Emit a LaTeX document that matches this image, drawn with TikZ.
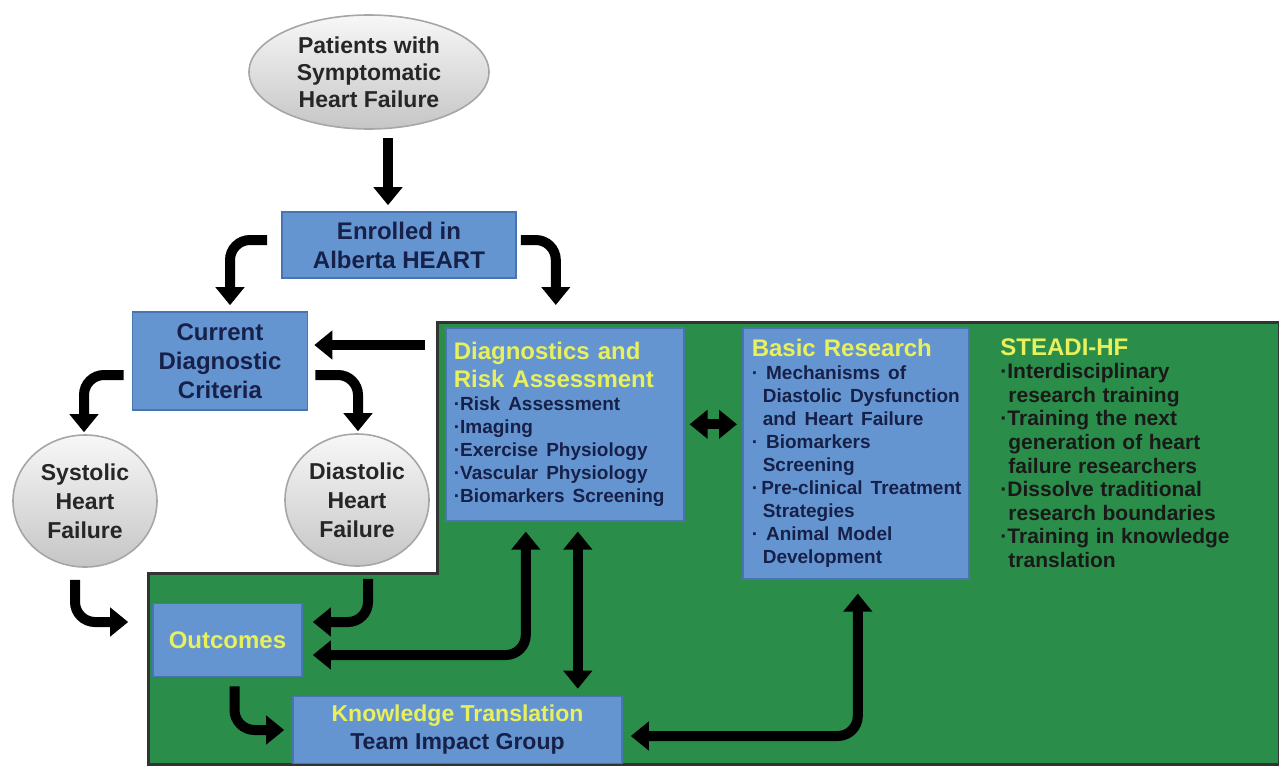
\documentclass[tikz,border=0pt]{standalone}
\usepackage{fontspec}
\setmainfont{Liberation Sans}
\usetikzlibrary{arrows.meta,shapes.geometric}

\definecolor{boxblue}{RGB}{101,149,209}
\definecolor{boxedge}{RGB}{72,116,176}
\definecolor{navy}{RGB}{22,32,72}
\definecolor{titleyellow}{RGB}{232,240,92}
\definecolor{teamgreen}{RGB}{42,142,74}

\newcommand{\titlefont}{\fontsize{12}{14}\selectfont\bfseries}
\newcommand{\itemfont}{\fontsize{9.5}{11.5}\selectfont\bfseries}

\begin{document}
\begin{tikzpicture}[x=0.5pt,y=-0.5pt]
    % Define styles for the boxes, bubbles and arrows
    \tikzstyle{box} = [rectangle, fill=boxblue, draw=boxedge, line width=0.8pt, text=navy, align=center, inner sep=2pt, font=\fontsize{12}{14.5}\selectfont\bfseries]
    \tikzstyle{panel} = [box, anchor=north west, align=left, inner xsep=4pt, inner ysep=5pt]
    \tikzstyle{bubble} = [ellipse, top color=gray!6, bottom color=gray!45, draw=gray!70, line width=0.8pt, inner sep=0pt, align=center, text=black!85, font=\fontsize{11.5}{14.5}\selectfont\bfseries]
    \tikzstyle{fat} = [line width=5pt, rounded corners=10pt, -{Triangle[width=14pt,length=9pt]}, shorten <=3pt, shorten >=3pt]
    \tikzstyle{fatboth} = [fat, {Triangle[width=14pt,length=9pt]}-{Triangle[width=14pt,length=9pt]}]

    \useasboundingbox (0,0) rectangle (1279,766);

    % Draw the green research area
    \fill[teamgreen, draw=black!80, line width=1.5pt] (437,322) -- (1279,322) -- (1279,764) -- (148,764) -- (148,573) -- (437,573) -- cycle;

    % Draw the patient flow
    \node[bubble, minimum width=120pt, minimum height=57pt, font=\fontsize{11.5}{13.5}\selectfont\bfseries] (patients) at (369,72) {Patients with\\Symptomatic\\Heart Failure};
    \node[box, minimum width=117pt, minimum height=33pt] (enrolled) at (399,245) {Enrolled in\\Alberta HEART};
    \node[box, minimum width=87.5pt, minimum height=49pt] (current) at (220,361) {Current\\Diagnostic\\Criteria};
    \node[bubble, minimum width=72pt, minimum height=66pt] (systolic) at (85,501) {Systolic\\Heart\\Failure};
    \node[bubble, minimum width=72pt, minimum height=66pt] (diastolic) at (357,500) {Diastolic\\Heart\\Failure};

    % Draw the research boxes
    \node[panel, minimum width=119pt, minimum height=96.5pt, text width=111pt] (diag) at (445,327) {%
        {\titlefont\color{titleyellow}Diagnostics and\\Risk Assessment\par}
        {\itemfont ·Risk Assessment\\·Imaging\\·Exercise Physiology\\·Vascular Physiology\\·Biomarkers Screening\par}};
    \node[panel, minimum width=113pt, minimum height=125.5pt, text width=109pt, inner xsep=2pt] (basic) at (742,327) {%
        {\titlefont\color{titleyellow}\hspace*{2.5pt}Basic Research\par}
        {\itemfont\hyphenpenalty=10000 \hspace*{2.5pt}· Mechanisms of\\\hspace*{8pt}Diastolic Dysfunction\\\hspace*{8pt}and Heart Failure\\\hspace*{2.5pt}· Biomarkers\\\hspace*{8pt}Screening\\\hspace*{2.5pt}·\,Pre-clinical Treatment\\\hspace*{8pt}Strategies\\\hspace*{2.5pt}· Animal Model\\\hspace*{8pt}Development\par}};
    \node[anchor=north west, align=left, text width=136pt, inner sep=0pt, text=black!90] (steadi) at (1000,338) {%
        {\titlefont\color{titleyellow}STEADI-HF\par}
        {\fontsize{10.5}{11.8}\selectfont\bfseries ·Interdisciplinary\\\hspace*{4pt}research training\\·Training the next\\\hspace*{4pt}generation of heart\\\hspace*{4pt}failure researchers\\·Dissolve traditional\\\hspace*{4pt}research boundaries\\·Training in knowledge\\\hspace*{4pt}translation\par}};
    \node[box, minimum width=74.5pt, minimum height=36.5pt, text=titleyellow] (outcomes) at (227.5,640) {Outcomes};
    \node[box, minimum width=164.5pt, minimum height=33.5pt, inner ysep=1pt, font=\fontsize{11.5}{14}\selectfont\bfseries] (knowledge) at (457.5,730) {{\color{titleyellow}Knowledge Translation}\\Team Impact Group};

    % Draw the arrows of the patient flow
    \draw[fat, shorten <=4pt] ([xshift=9.5pt]patients.south) -- ([xshift=-5.5pt]enrolled.north);
    \draw[fat, shorten <=7pt] ([yshift=2.5pt]enrolled.west) -| ([xshift=5pt]current.north);
    \draw[fat, shorten >=11pt, shorten <=2pt] ([yshift=2.5pt]enrolled.east) -| ([xshift=-4.5pt]diag.north);
    \coordinate (back) at ([yshift=8pt]current.east);
    \draw[fat, shorten <=10pt] (diag.west |- back) -- (back);
    \draw[fat, shorten <=4pt, shorten >=1pt] ([yshift=-7pt]current.west) -| ([xshift=-0.5pt]systolic.north);
    \draw[fat, shorten <=3.5pt, shorten >=1pt] ([yshift=-7pt]current.east) -| ([xshift=0.5pt]diastolic.north);
    \draw[fat, shorten <=6pt, shorten >=12pt] ([xshift=-5pt]systolic.south) |- ([yshift=9pt]outcomes.west);
    \draw[fat, shorten <=6pt, shorten >=5pt] ([xshift=5.5pt]diastolic.south) |- ([yshift=9pt]outcomes.east);

    % Draw the arrows between the research boxes
    \draw[fatboth, shorten <=2.5pt, shorten >=2.5pt] (diag.east) -- (diag.east -| basic.west);
    \draw[fatboth, shorten <=5pt, shorten >=5pt] ([xshift=-19.5pt]diag.south) |- ([yshift=-7.5pt]outcomes.east);
    \coordinate (kt) at ([xshift=6.5pt]diag.south);
    \draw[fatboth, shorten <=5pt, shorten >=3.5pt] (kt) -- (kt |- knowledge.north);
    \draw[fat, shorten <=4.5pt, shorten >=4pt] ([xshift=3.5pt]outcomes.south) |- (knowledge.west);
    \draw[fatboth, shorten <=4pt, shorten >=7pt] ([yshift=-3pt]knowledge.east) -| ([xshift=1pt]basic.south);
\end{tikzpicture}
\end{document}
